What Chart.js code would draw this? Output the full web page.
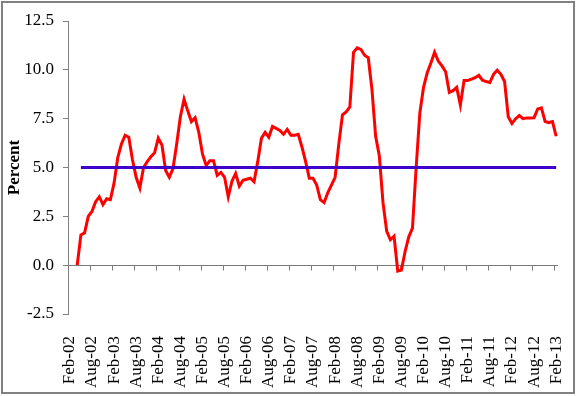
<!DOCTYPE html>
<html>
<head>
<meta charset="utf-8">
<script src="https://cdn.jsdelivr.net/npm/chart.js@4"></script>
<style>
  html, body { margin: 0; padding: 0; background: #fff; }
  #wrap { position: relative; width: 576px; height: 396px; }
</style>
</head>
<body>
<div id="wrap"><canvas id="chart" width="576" height="396"></canvas></div>
<script>
// Monthly series, Feb-02 .. Feb-13 (133 months)
const monthNames = ['Jan','Feb','Mar','Apr','May','Jun','Jul','Aug','Sep','Oct','Nov','Dec'];
const startYear = 2002, startMonth = 1, monthCount = 133;
const labels = [];
for (let k = 0; k < monthCount; k++) {
  const m = (startMonth + k) % 12;
  const yr = startYear + Math.floor((startMonth + k) / 12);
  labels.push(monthNames[m] + '-' + String(yr % 100).padStart(2, '0'));
}

// red series (percent)
const actual = [
  null, null, 0.0, 1.55, 1.65, 2.5, 2.75, 3.25, 3.5, 3.1,
  3.4, 3.35, 4.2, 5.5, 6.2, 6.65, 6.55, 5.4, 4.5, 3.95,
  5.0, 5.3, 5.55, 5.75, 6.5, 6.15, 4.85, 4.5, 4.95, 6.2,
  7.6, 8.5, 7.9, 7.35, 7.55, 6.8, 5.7, 5.1, 5.35, 5.35,
  4.6, 4.75, 4.5, 3.5, 4.3, 4.7, 4.05, 4.35, 4.4, 4.45,
  4.27, 5.3, 6.5, 6.8, 6.55, 7.1, 7.0, 6.9, 6.7, 6.95,
  6.65, 6.65, 6.7, 6.05, 5.3, 4.45, 4.45, 4.1, 3.35, 3.2,
  3.7, 4.1, 4.5, 6.2, 7.7, 7.85, 8.1, 10.9, 11.13, 11.05,
  10.75, 10.62, 9.0, 6.6, 5.6, 3.2, 1.75, 1.3, 1.48, -0.3,
  -0.25, 0.7, 1.45, 1.9, 5.0, 7.8, 9.1, 9.85, 10.35, 10.9,
  10.45, 10.2, 9.9, 8.85, 8.93, 9.1, 8.2, 9.45, 9.45, 9.52,
  9.6, 9.72, 9.47, 9.4, 9.35, 9.77, 9.98, 9.77, 9.4, 7.6,
  7.25, 7.5, 7.66, 7.5, 7.54, 7.54, 7.55, 8.0, 8.05, 7.35,
  7.3, 7.35, 6.6
];

// blue reference line at 5 percent
const target = labels.map((_, i) => (i >= 3 ? 5.0 : null));

const yTicks = [-2.5, 0, 2.5, 5, 7.5, 10, 12.5];

const serif = "'Liberation Serif', 'Times New Roman', serif";

// x axis line drawn at zero, with a tick every 6 months
const zeroAxis = {
  id: 'zeroAxis',
  beforeDatasetsDraw(chart) {
    const { ctx, chartArea, scales: { x, y } } = chart;
    const y0 = Math.round(y.getPixelForValue(0)) + 0.5;
    const step = (chartArea.right - chartArea.left) / labels.length;
    ctx.save();
    ctx.strokeStyle = '#7a7a7a';
    ctx.lineWidth = 1;
    ctx.beginPath();
    ctx.moveTo(chartArea.left, y0);
    ctx.lineTo(chartArea.right, y0);
    for (let i = 0; i < labels.length; i += 6) {
      const px = Math.round(x.getPixelForValue(i) - step / 2) + 0.5;
      ctx.moveTo(px, y0);
      ctx.lineTo(px, y0 + 5);
    }
    ctx.stroke();
    ctx.restore();
  }
};

// grey outer frame
const frame = {
  id: 'frame',
  afterDraw(chart) {
    const { ctx } = chart;
    ctx.save();
    ctx.strokeStyle = '#808080';
    ctx.lineWidth = 2;
    ctx.strokeRect(2, 2, 572, 391);
    ctx.restore();
  }
};

new Chart(document.getElementById('chart'), {
  type: 'line',
  data: {
    labels,
    datasets: [
      {
        data: target,
        borderColor: '#4000cc',
        borderWidth: 3,
        pointRadius: 0,
        tension: 0,
        spanGaps: false
      },
      {
        data: actual,
        borderColor: '#ff0000',
        borderWidth: 3,
        pointRadius: 0,
        tension: 0
      }
    ]
  },
  options: {
    responsive: false,
    animation: false,
    events: [],
    layout: { padding: { left: 0, right: 18, top: 21, bottom: 0 } },
    plugins: { legend: { display: false }, tooltip: { enabled: false } },
    scales: {
      x: {
        type: 'category',
        offset: true,
        grid: { display: false },
        border: { display: false },
        ticks: {
          autoSkip: false,
          minRotation: 90,
          maxRotation: 90,
          padding: 14,
          color: '#000',
          font: { family: serif, size: 17 },
          callback: (v, i) => (i % 6 === 0 ? labels[i] : '')
        },
        afterFit: s => { s.height = 82; s.paddingLeft = 0; s.paddingRight = 0; }
      },
      y: {
        min: -2.5,
        max: 12.5,
        afterBuildTicks: s => { s.ticks = yTicks.map(v => ({ value: v })); },
        grid: { drawOnChartArea: false, tickLength: 5, color: '#808080' },
        border: { display: true, color: '#808080', width: 1 },
        ticks: {
          padding: 9,
          color: '#000',
          font: { family: serif, size: 17 },
          callback: v => v.toFixed(1)
        },
        title: {
          display: true,
          text: 'Percent',
          color: '#000',
          font: { family: serif, size: 17, weight: 'bold' },
          padding: { top: 4, bottom: 0 }
        },
        afterFit: s => { s.width = 68; s.paddingTop = 0; s.paddingBottom = 0; }
      }
    }
  },
  plugins: [zeroAxis, frame]
});
</script>
</body>
</html>
